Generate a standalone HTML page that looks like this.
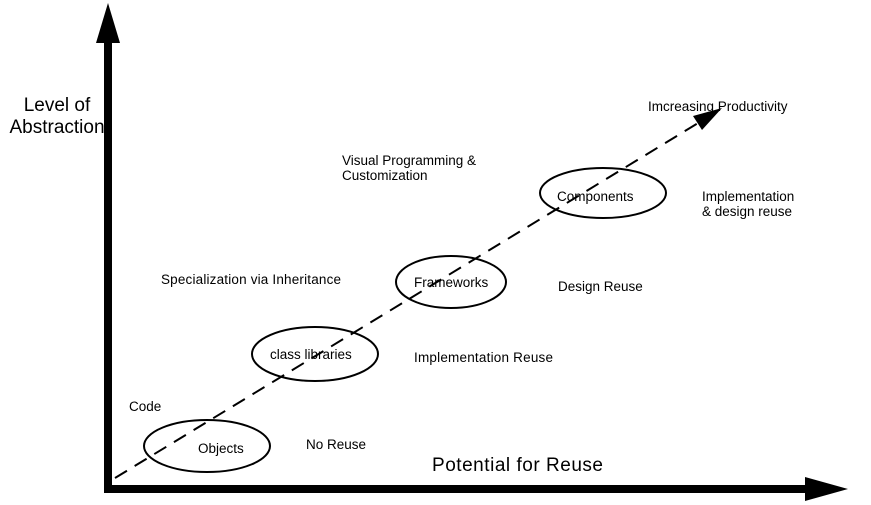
<!DOCTYPE html>
<html><head><style>
html,body{margin:0;padding:0;background:#fff;}
svg{display:block;}
text{font-family:"Liberation Sans",sans-serif;fill:#000;}
</style></head><body>
<svg width="871" height="505" viewBox="0 0 871 505">
<rect x="104" y="40" width="8" height="453" fill="#000"/>
<polygon points="108,3 96,43 120,43" fill="#000"/>
<rect x="104" y="485" width="705" height="8" fill="#000"/>
<polygon points="848,489 805,477 805,501" fill="#000"/>
<line x1="115" y1="478" x2="708" y2="117" stroke="#000" stroke-width="2" stroke-dasharray="14,9"/>
<polygon points="722,108 693,116 702,130" fill="#000"/>
<g fill="none" stroke="#000" stroke-width="2">
<ellipse cx="207" cy="446" rx="63" ry="26"/>
<ellipse cx="315" cy="354" rx="63" ry="27"/>
<ellipse cx="451" cy="282" rx="55" ry="26"/>
<ellipse cx="603" cy="193" rx="63" ry="25"/>
</g>
<text x="57" y="111" font-size="19" text-anchor="middle">Level of</text>
<text x="57" y="133" font-size="19" text-anchor="middle">Abstraction</text>
<text x="432" y="471" font-size="19" textLength="171">Potential for Reuse</text>
<g font-size="13.5">
<text x="129" y="411">Code</text>
<text x="198" y="453">Objects</text>
<text x="306" y="449">No Reuse</text>
<text x="270" y="359">class libraries</text>
<text x="414" y="362" textLength="139">Implementation Reuse</text>
<text x="161" y="284" textLength="180">Specialization via Inheritance</text>
<text x="414" y="287">Frameworks</text>
<text x="558" y="291">Design Reuse</text>
<text x="342" y="165">Visual Programming &amp;</text>
<text x="342" y="180">Customization</text>
<text x="557" y="201">Components</text>
<text x="702" y="201">Implementation</text>
<text x="702" y="216">&amp; design reuse</text>
<text x="648" y="111">Imcreasing Productivity</text>
</g>
</svg>
</body></html>
